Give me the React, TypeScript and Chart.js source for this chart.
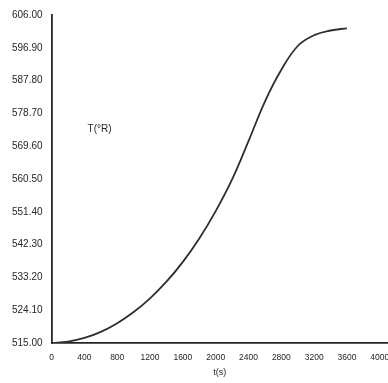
import React, { useEffect, useRef } from "react";
import { Chart, registerables } from "chart.js";

Chart.register(...registerables);

const timeSeconds = [0, 200, 400, 600, 800, 1000, 1200, 1400, 1600, 1800, 2000, 2200, 2400, 2600, 2800, 3000, 3200, 3400, 3600];
const temperatureR = [515.0, 515.4, 516.4, 518.1, 520.5, 523.6, 527.4, 532.0, 537.5, 544.0, 551.6, 560.4, 571.0, 582.0, 590.8, 597.4, 600.4, 601.7, 602.3];
const xTickValues = [0, 400, 800, 1200, 1600, 2000, 2400, 2800, 3200, 3600, 4000];
const yTickValues = [515.0, 524.1, 533.2, 542.3, 551.4, 560.5, 569.6, 578.7, 587.8, 596.9, 606.0];
const xTitle = "t(s)";
const yLabel = "T(°R)";

const ink = "#262626";
const font = "'Liberation Sans', Arial, sans-serif";

const labelPlugin = {
  id: "innerLabel",
  afterDraw(chart: any) {
    const { ctx, chartArea } = chart;
    ctx.save();
    ctx.fillStyle = ink;
    ctx.font = `10px ${font}`;
    ctx.textAlign = "left";
    ctx.textBaseline = "middle";
    ctx.fillText(yLabel, chartArea.left + 36, 129);
    ctx.restore();
  },
};

export default function App() {
  const ref = useRef<HTMLCanvasElement | null>(null);
  useEffect(() => {
    const canvas = ref.current!;
    const ctx = canvas.getContext("2d") as any;
    try { ctx.letterSpacing = "0.8px"; } catch (e) {}
    const chart = new Chart(canvas, {
      type: "line",
      data: {
        datasets: [
          {
            data: timeSeconds.map((t, i) => ({ x: t, y: temperatureR[i] })),
            borderColor: "#2e2e2e",
            borderWidth: 1.8,
            pointRadius: 0,
            fill: false,
            tension: 0.4,
          },
        ],
      },
      options: {
        animation: false,
        responsive: false,
        devicePixelRatio: 1,
        layout: { padding: { left: 3, top: 12, right: 0, bottom: 5 } },
        plugins: { legend: { display: false }, tooltip: { enabled: false } },
        scales: {
          x: {
            type: "linear",
            min: 0,
            max: 4100,
            afterBuildTicks: (s: any) => { s.ticks = xTickValues.map((v) => ({ value: v })); },
            afterFit: (s: any) => { s.paddingRight = 0; s.paddingLeft = 0; },
            grid: { display: true, drawOnChartArea: false, drawTicks: false },
            border: { display: true, color: ink, width: 1.8 },
            ticks: {
              color: ink,
              font: { family: font, size: 8.5 },
              padding: 10,
              maxRotation: 0,
              autoSkip: false,
              callback: (v: any) => String(v),
            },
            title: { display: true, text: xTitle, color: ink, font: { family: font, size: 9 }, padding: { top: -6, bottom: 0 } },
          },
          y: {
            type: "linear",
            min: 515,
            max: 606,
            afterBuildTicks: (s: any) => { s.ticks = yTickValues.map((v) => ({ value: v })); },
            grid: { display: true, drawOnChartArea: false, drawTicks: false },
            border: { display: true, color: ink, width: 1.8 },
            ticks: {
              color: ink,
              font: { family: font, size: 10 },
              padding: 9,
              autoSkip: false,
              callback: (v: any) => Number(v).toFixed(2),
            },
          },
        },
      },
      plugins: [labelPlugin],
    } as any);
    return () => chart.destroy();
  }, []);
  return (
    <div style={{ position: "fixed", left: 0, top: 0, width: 388, height: 383, overflow: "hidden", background: "#fff" }}>
      <canvas ref={ref} width={388} height={383} style={{ display: "block" }} />
    </div>
  );
}
